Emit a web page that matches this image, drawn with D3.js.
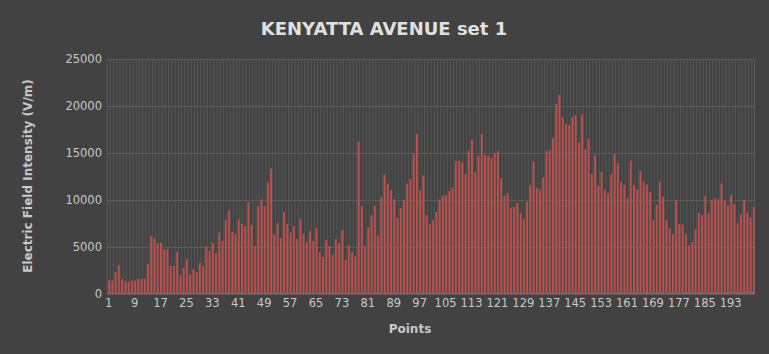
<!DOCTYPE html>
<html>
<head>
<meta charset="utf-8">
<script src="https://cdn.jsdelivr.net/npm/d3@7"></script>
<style>
  body { margin: 0; background: #424242; }
  text { font-family: "DejaVu Sans", sans-serif; }
</style>
</head>
<body>
<div id="chart"></div>
<script>
// Point numbers 1..200 (categories)
const points = d3.range(1, 201);

// Electric field intensity readings (V/m)
const fieldValues = [
  1490, 1420, 2340, 3090, 1560, 1350, 1350, 1450, 1420, 1600,
  1600, 1600, 3190, 6170, 5920, 5430, 5460, 4750, 4790, 2980,
  2980, 4470, 1990, 2770, 3720, 2090, 2660, 2340, 3300, 2980,
  5070, 4570, 5430, 4330, 6530, 5640, 7870, 8900, 6600, 6380,
  7940, 7450, 7230, 9750, 7340, 5110, 9360, 10040, 9360, 11880,
  13370, 6350, 7550, 5960, 8720, 7450, 6560, 7230, 5850, 8010,
  6420, 5570, 6670, 5670, 7020, 4470, 3940, 5750, 5110, 4180,
  5850, 5460, 6810, 3620, 5180, 4500, 4010, 16200, 9360, 5110,
  7090, 8400, 9360, 6240, 10320, 12700, 11740, 11060, 10070, 8090,
  9150, 10000, 11770, 12230, 15000, 17020, 11060, 12620, 8400, 7450,
  7870, 8720, 10070, 10460, 10530, 10960, 11310, 14150, 14150, 13970,
  12770, 15250, 16380, 12980, 14680, 17020, 14790, 14680, 14470, 15000,
  15210, 12340, 10430, 10710, 9180, 9260, 9650, 8620, 7980, 9820,
  11600, 14080, 11280, 11130, 12410, 15210, 15320, 16600, 20210, 21170,
  18790, 18090, 17980, 18830, 19040, 16100, 19110, 15430, 16490, 12770,
  14720, 11530, 12980, 11060, 10710, 12730, 14890, 13900, 11920, 11600,
  10210, 14180, 11600, 11130, 13090, 11920, 11630, 10850, 7870, 9470,
  11920, 10320, 7870, 6990, 6380, 10000, 7450, 7410, 6380, 5180,
  5530, 6920, 8620, 8400, 10430, 8580, 10000, 10180, 10070, 11770,
  9930, 9430, 10530, 9570, 7520, 8480, 10000, 8650, 8160, 9260
];

// Second (blue) series: the point number column itself
const pointValues = points;

// Y axis ticks
const yTicks = [0, 5000, 10000, 15000, 20000, 25000];

// X axis labels shown every 8 points
const xLabels = points.filter((d, i) => i % 8 === 0);

// Set up the SVG dimensions
const W = 769, H = 354;
const margin = { top: 59, right: 14, bottom: 60, left: 107 },
      width = W - margin.left - margin.right,
      height = H - margin.top - margin.bottom;

const svgRoot = d3.select("#chart")
  .append("svg")
    .attr("width", W)
    .attr("height", H);

svgRoot.append("rect")
  .attr("width", W).attr("height", H)
  .attr("fill", "#424242");

const svg = svgRoot.append("g")
  .attr("transform", `translate(${margin.left},${margin.top})`);

// Scales
const x = d3.scaleBand()
  .domain(points)
  .range([0, width])
  .paddingInner(0.12)
  .paddingOuter(0.06);

const y = d3.scaleLinear()
  .domain([0, 25000])
  .range([height, 0]);

// Vertical gridlines, one per category boundary
svg.append("g")
  .selectAll("line")
  .data(points)
  .join("line")
    .attr("x1", d => x(d) - x.step() * x.paddingInner() / 2)
    .attr("x2", d => x(d) - x.step() * x.paddingInner() / 2)
    .attr("y1", 0)
    .attr("y2", height)
    .attr("stroke", "#575757")
    .attr("stroke-width", 1);

// Horizontal gridlines
svg.append("g")
  .selectAll("line")
  .data(yTicks)
  .join("line")
    .attr("x1", 0)
    .attr("x2", width)
    .attr("y1", d => Math.round(y(d)) + 0.5)
    .attr("y2", d => Math.round(y(d)) + 0.5)
    .attr("stroke", "#5c5c5c")
    .attr("stroke-width", 1);

// Right border of plot area
svg.append("line")
  .attr("x1", width - 0.5).attr("x2", width - 0.5)
  .attr("y1", 0).attr("y2", height)
  .attr("stroke", "#5c5c5c");

// Bars: blue (point no.) then red (field)
const blueW = x.bandwidth() * 0.34;
svg.append("g")
  .selectAll("rect")
  .data(pointValues)
  .join("rect")
    .attr("x", (d, i) => x(points[i]))
    .attr("width", blueW)
    .attr("y", d => Math.min(y(d), height - 1.2))
    .attr("height", d => Math.max(height - y(d), 1.2))
    .attr("fill", "#4f81bd");

svg.append("g")
  .selectAll("rect")
  .data(fieldValues)
  .join("rect")
    .attr("x", (d, i) => x(points[i]) + blueW)
    .attr("width", x.bandwidth() - blueW)
    .attr("y", d => y(d))
    .attr("height", d => height - y(d))
    .attr("fill", "#c0504d");

// Y axis labels
const yAxis = svg.append("g")
  .call(d3.axisLeft(y).tickValues(yTicks).tickSize(0).tickPadding(5).tickFormat(d3.format("d")));
yAxis.select(".domain").remove();
yAxis.selectAll("text")
  .attr("fill", "#c8c8c8")
  .style("font-size", "11.5px");

// X axis labels
const xAxis = svg.append("g")
  .attr("transform", `translate(0, ${height})`)
  .call(d3.axisBottom(x).tickValues(xLabels).tickSize(0).tickPadding(5));
xAxis.select(".domain").remove();
xAxis.selectAll("text")
  .attr("fill", "#c8c8c8")
  .style("font-size", "11.5px");

// Title
svgRoot.append("text")
  .attr("x", 384)
  .attr("y", 35)
  .attr("text-anchor", "middle")
  .attr("fill", "#e0e0e0")
  .style("font-size", "18px")
  .style("font-weight", "bold")
  .text("KENYATTA AVENUE set 1");

// Axis titles
svgRoot.append("text")
  .attr("x", 410)
  .attr("y", 333)
  .attr("text-anchor", "middle")
  .attr("fill", "#c8c8c8")
  .style("font-size", "12px")
  .style("font-weight", "bold")
  .text("Points");

svgRoot.append("text")
  .attr("transform", "translate(32, 176) rotate(-90)")
  .attr("text-anchor", "middle")
  .attr("fill", "#c8c8c8")
  .style("font-size", "12px")
  .style("font-weight", "bold")
  .text("Electric Field Intensity (V/m)");
</script>
</body>
</html>
